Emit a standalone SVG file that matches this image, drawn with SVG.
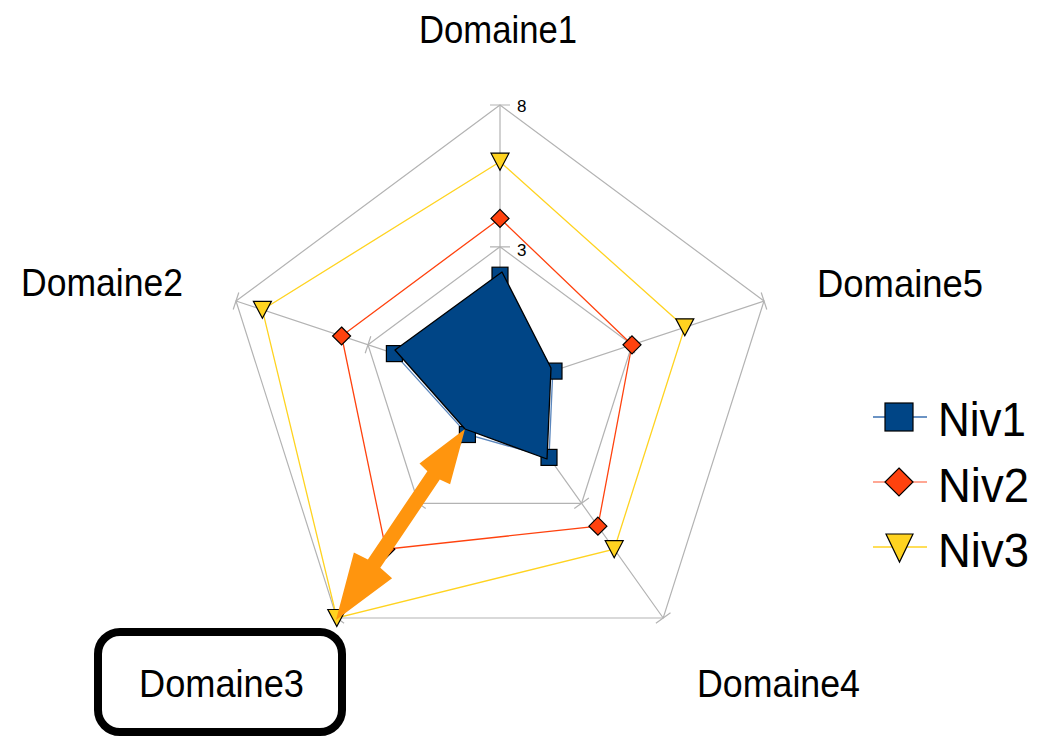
<svg xmlns="http://www.w3.org/2000/svg" width="1048" height="736" viewBox="0 0 1048 736">
<style>
.grid{fill:none;stroke:#b3b3b3;stroke-width:1.2}
.lbl{font-family:"Liberation Sans",Arial,sans-serif;font-size:38.5px;fill:#000}
.leg{font-family:"Liberation Sans",Arial,sans-serif;font-size:48px;fill:#000}
.tick{font-family:"Liberation Sans",Arial,sans-serif;font-size:17px;fill:#000}
.mk{stroke:#000;stroke-width:1.2;stroke-linejoin:miter}
.n1{fill:#004586}
.n2{fill:#ff420e}
.n3{fill:#ffd320}
</style>
<defs>
<rect id="sq" x="-8" y="-8" width="16" height="16" class="mk n1"/>
<polygon id="dm" points="0,-9 9,0 0,9 -9,0" class="mk n2"/>
<polygon id="tr" points="-9,-8.5 9,-8.5 0,8.5" class="mk n3"/>
</defs>
<rect width="1048" height="736" fill="#fff"/>

<g id="grid">
<polygon class="grid" points="500,105 236,301 336.8,618 663.2,618 764,301"/>
<polygon class="grid" points="500,246.8 368,344.8 418.4,503.3 581.6,503.3 632,344.8"/>
<path class="grid" d="M500,388.6L500,105M500,388.6L236,301M500,388.6L336.8,618M500,388.6L663.2,618M500,388.6L764,301"/>
<path class="grid" d="M490,105H510M490,246.8H510M233.2,309.5L238.8,292.5M365.2,353.3L370.8,336.3M761.2,292.5L766.8,309.5M629.2,336.3L634.8,353.3M329.5,612.8L344.1,623.2M411.1,498.1L425.7,508.5M655.9,623.2L670.5,612.8M574.3,508.5L588.9,498.1"/>
<text class="tick" x="517" y="112">8</text>
<text class="tick" x="517" y="256">3</text>
</g>

<g id="connectors">
<polygon fill="none" stroke="#ffd320" stroke-width="1.3" points="500,161.7 262.4,309.8 336.8,618 614.2,549.2 684.8,327.3"/>
<polygon fill="none" stroke="#ff420e" stroke-width="1.3" points="500,218.4 341.6,336 385.8,549.2 597.9,526.2 632,344.8"/>
<polygon fill="none" stroke="#5a86bd" stroke-width="1.3" points="500,275.2 394.4,353.6 467.4,434.5 549,457.4 552.8,371.1"/>
</g>

<g id="series-niv3">
<use href="#tr" x="500" y="161.7"/>
<use href="#tr" x="262.4" y="309.8"/>
<use href="#tr" x="336.8" y="618"/>
<use href="#tr" x="614.2" y="549.2"/>
<use href="#tr" x="684.8" y="327.3"/>
</g>
<g id="series-niv2">
<use href="#dm" x="500" y="218.4"/>
<use href="#dm" x="341.6" y="336"/>
<use href="#dm" x="385.8" y="549.2"/>
<use href="#dm" x="597.9" y="526.2"/>
<use href="#dm" x="632" y="344.8"/>
</g>
<g id="series-niv1-markers">
<use href="#sq" x="500" y="275.2"/>
<use href="#sq" x="394.4" y="353.6"/>
<use href="#sq" x="467.4" y="434.5"/>
<use href="#sq" x="549" y="457.4"/>
<use href="#sq" x="554" y="371.1"/>
</g>

<g id="arrow">
<polygon fill="#ff950e" points="336,620 392.1,578.2 380.3,567.8 439.8,479.6 450.1,484.2 465,429 419.5,463.4 427.4,471.2 367.9,559.4 353.9,552.4"/>
</g>

<g id="series-niv1-area">
<polygon fill="#004586" stroke="#000" stroke-width="1.3" stroke-linejoin="round" points="502,272 395,350 465,429 547,459 551,368"/>
</g>

<g id="labels">
<text class="lbl" x="419" y="43" textLength="158" lengthAdjust="spacingAndGlyphs">Domaine1</text>
<text class="lbl" x="21" y="296" textLength="162" lengthAdjust="spacingAndGlyphs">Domaine2</text>
<text class="lbl" x="817" y="297" textLength="166" lengthAdjust="spacingAndGlyphs">Domaine5</text>
<text class="lbl" x="697" y="697" textLength="163" lengthAdjust="spacingAndGlyphs">Domaine4</text>
</g>

<g id="domaine3-box">
<rect x="98" y="632" width="244" height="100" rx="22" ry="22" fill="none" stroke="#000" stroke-width="8"/>
<text class="lbl" x="139" y="697" textLength="165" lengthAdjust="spacingAndGlyphs">Domaine3</text>
</g>

<g id="legend">
<g id="leg-niv1">
<line x1="873" y1="417" x2="927" y2="417" stroke="#3a6fb0" stroke-width="1.5"/>
<rect x="885" y="403" width="28" height="28" class="mk n1"/>
<text class="leg" x="938" y="436" textLength="88" lengthAdjust="spacingAndGlyphs">Niv1</text>
</g>
<g id="leg-niv2">
<line x1="873" y1="482" x2="927" y2="482" stroke="#ff8a70" stroke-width="1.5"/>
<polygon points="899,468 913,482 899,496 885,482" class="mk n2"/>
<text class="leg" x="938" y="502" textLength="91" lengthAdjust="spacingAndGlyphs">Niv2</text>
</g>
<g id="leg-niv3">
<line x1="873" y1="547" x2="927" y2="547" stroke="#ffd320" stroke-width="1.5"/>
<polygon points="886,534 913,534 899.5,562" class="mk n3"/>
<text class="leg" x="938" y="567" textLength="91" lengthAdjust="spacingAndGlyphs">Niv3</text>
</g>
</g>
</svg>
